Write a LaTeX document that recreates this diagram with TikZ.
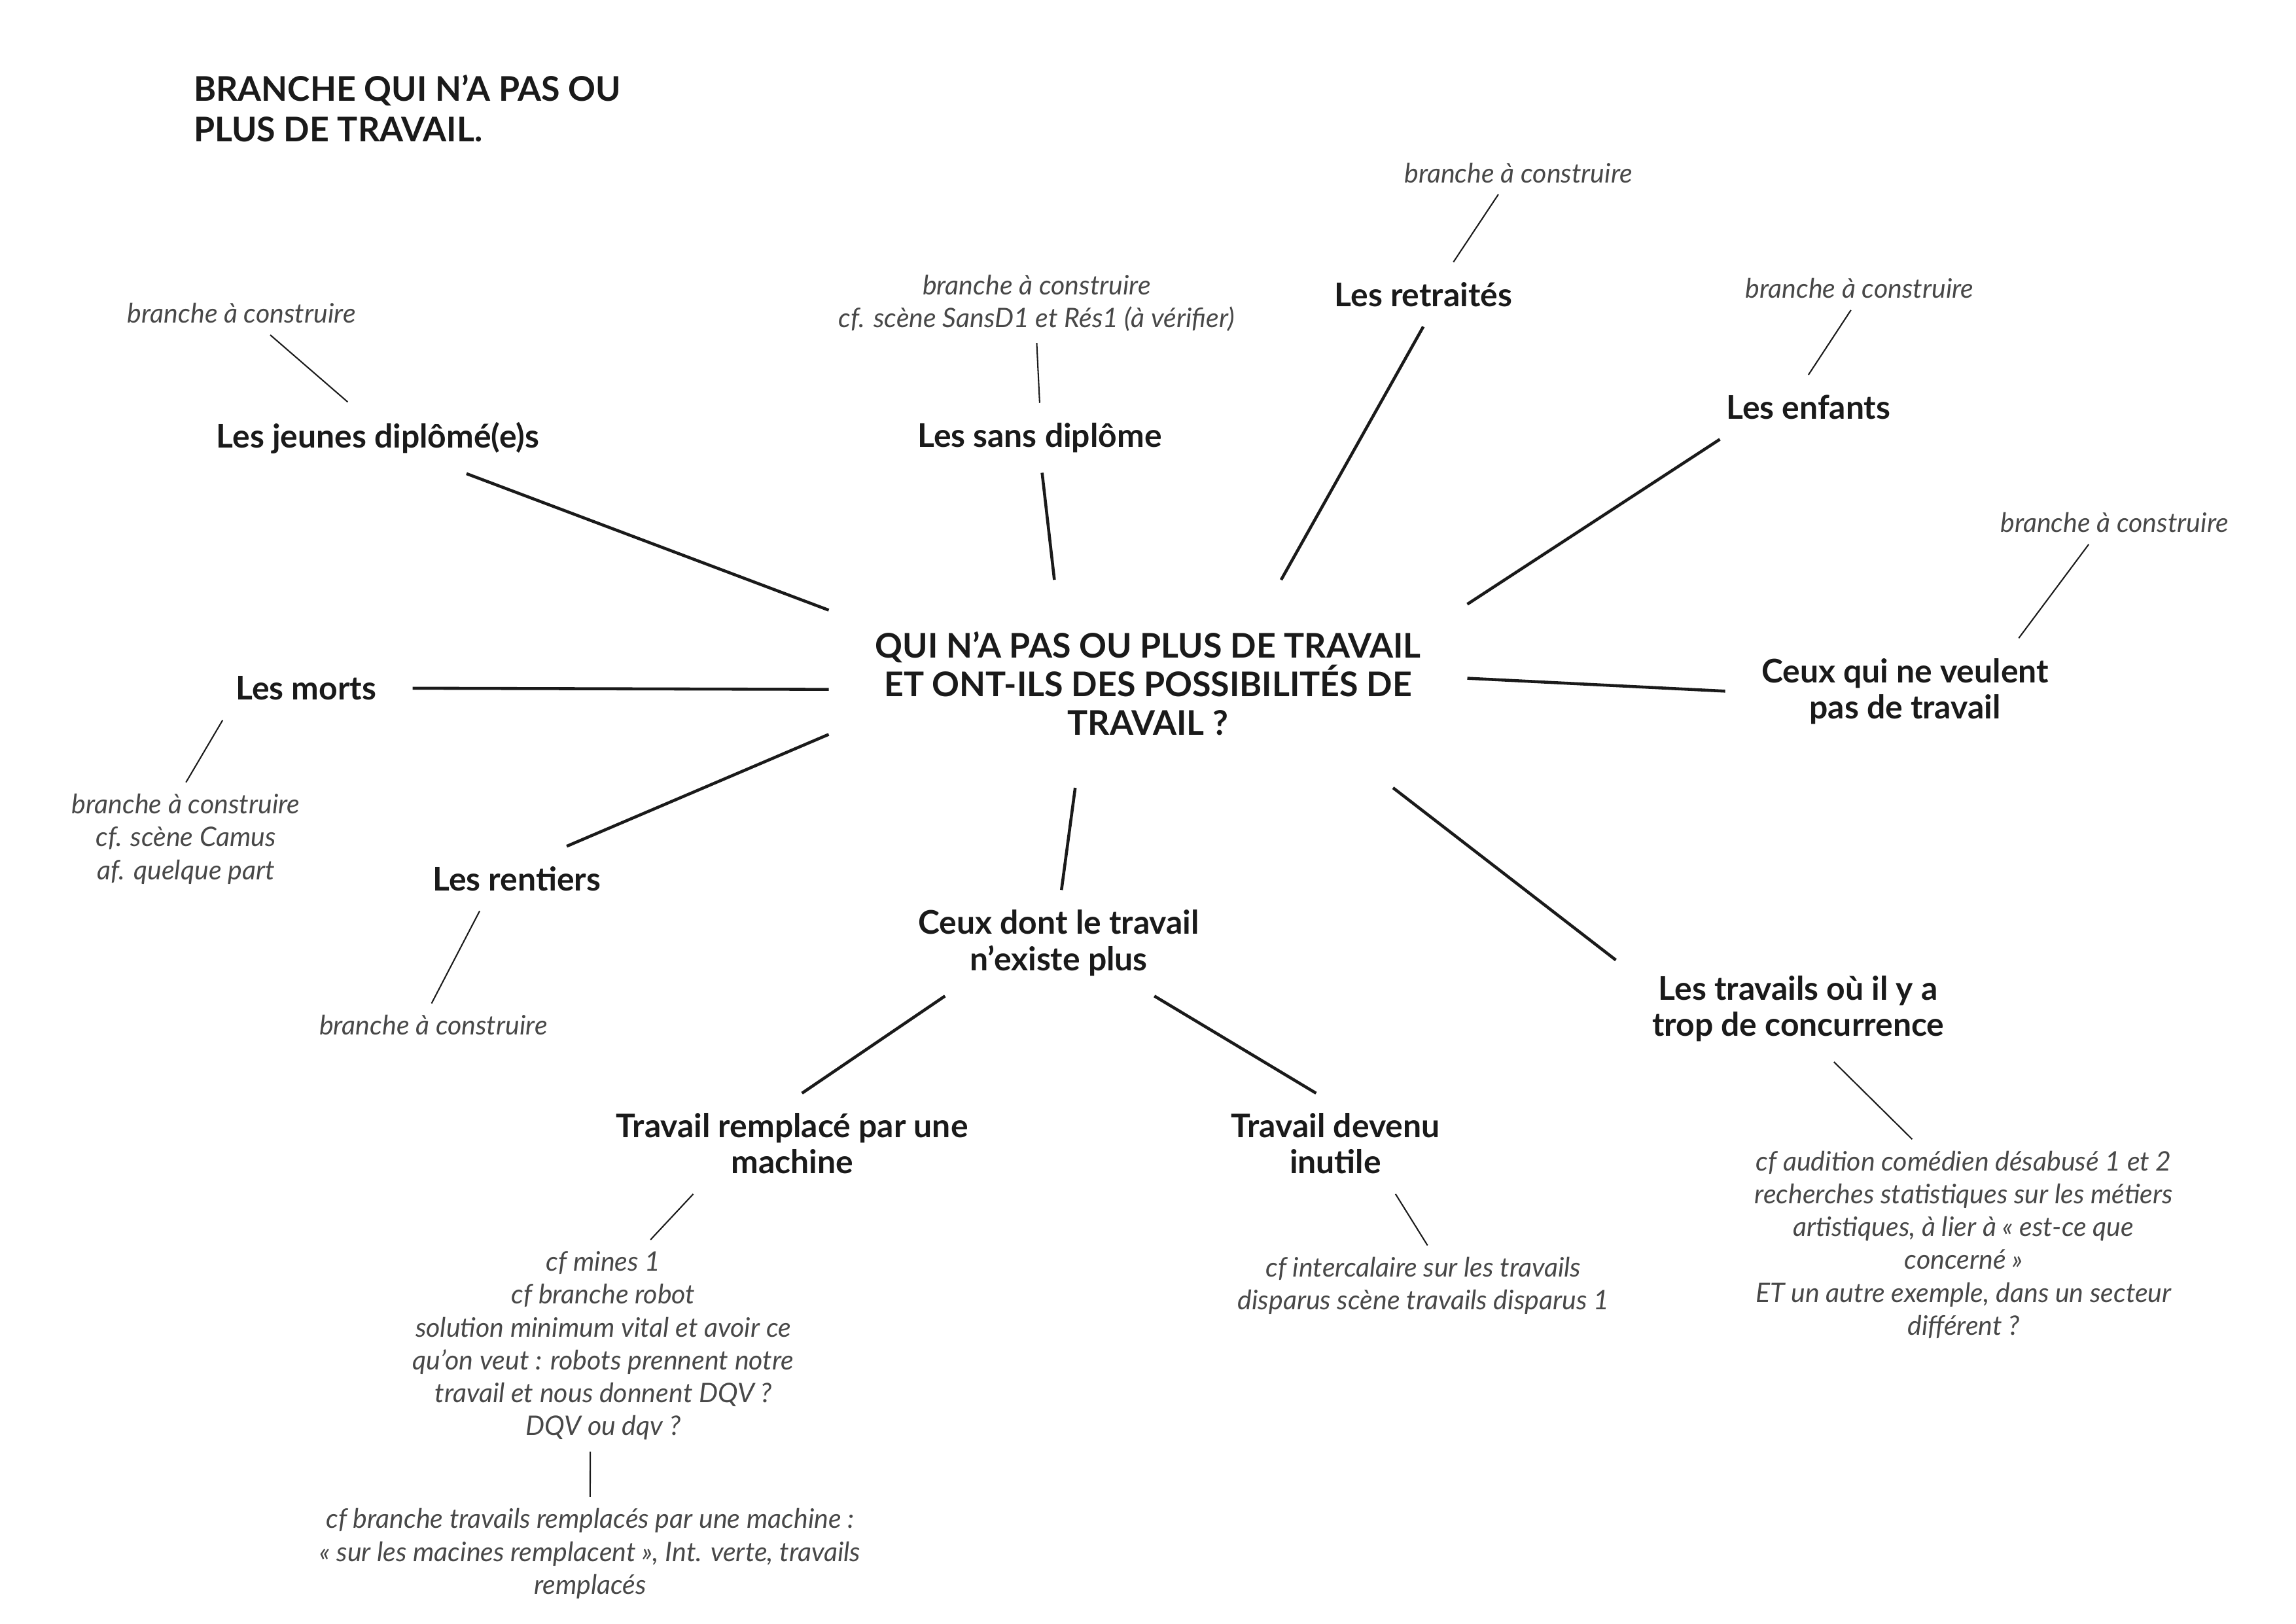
\documentclass[tikz,border=0pt]{standalone}
\usepackage{fontspec}
\setmainfont{Lato}
\definecolor{ink}{HTML}{1A1A1A}

\begin{document}
\begin{tikzpicture}[x=0.1894mm, y=-0.1894mm,
    hub/.style={font=\fontsize{12.5}{14.2}\selectfont\bfseries, align=center,
      minimum width=8.26cm, minimum height=2.69cm, inner sep=0pt, outer sep=0pt, text=ink},
    leaf/.style={font=\fontsize{12}{13.3}\selectfont\bfseries, align=center,
      inner xsep=0.47cm, inner ysep=0.26cm, outer sep=0pt, text=ink},
    note/.style={font=\fontsize{9.9}{12.1}\selectfont\itshape, align=center,
      inner xsep=0.2cm, inner ysep=0.15cm, outer sep=0pt, text=ink!80},
    branch/.style={draw=ink, line width=1.1pt},
    twig/.style={draw=ink, line width=0.5pt}]
    \useasboundingbox (0,0) rectangle (1568,1109);
    % title
    \node [font=\fontsize{12.5}{15}\selectfont\bfseries, align=left, anchor=west, inner sep=0pt, text=ink]
      (title) at (132,74) {BRANCHE QUI N’A PAS OU\\PLUS DE TRAVAIL.};
    % centre
    \node [hub] (hub) at (784,467)
      {QUI N’A PAS OU PLUS DE TRAVAIL\\ET ONT-ILS DES POSSIBILITÉS DE\\TRAVAIL ?};
    % branches
    \node [leaf] (jeunes) at (258,299) {Les jeunes diplômé(e)s};
    \node [leaf] (sans) at (710,299) {Les sans diplôme};
    \node [leaf] (retraites) at (972,201) {Les retraités};
    \node [leaf] (enfants) at (1235,278) {Les enfants};
    \node [leaf] (veulent) at (1301,472) {Ceux qui ne veulent\\pas de travail};
    \node [leaf] (morts) at (209,470) {Les morts};
    \node [leaf] (rentiers) at (353,600) {Les rentiers};
    \node [leaf] (existe) at (723,644) {Ceux dont le travail\\n’existe plus};
    \node [leaf] (concurrence) at (1228,689) {Les travails où il y a\\trop de concurrence};
    \node [leaf] (machine) at (541,781) {Travail remplacé par une\\machine};
    \node [leaf] (inutile) at (912,781) {Travail devenu\\inutile};
    % notes
    \node [note] (n-jeunes) at (165,214) {branche à construire};
    \node [note] (n-sans) at (708,207) {branche à construire\\cf. scène SansD1 et Rés1 (à vérifier)};
    \node [note] (n-retraites) at (1037,118) {branche à construire};
    \node [note] (n-enfants) at (1270,197) {branche à construire};
    \node [note] (n-veulent) at (1444,357) {branche à construire};
    \node [note] (n-morts) at (127,573) {branche à construire\\cf. scène Camus\\af. quelque part};
    \node [note] (n-rentiers) at (296,700) {branche à construire};
    \node [note] (n-machine) at (412,919) {cf mines 1\\cf branche robot\\solution minimum vital et avoir ce\\qu’on veut : robots prennent notre\\travail et nous donnent DQV ?\\DQV ou dqv ?};
    \node [note] (n-machine2) at (403,1061) {cf branche travails remplacés par une machine :\\« sur les macines remplacent », Int. verte, travails\\remplacés};
    \node [note] (n-inutile) at (972,878) {cf intercalaire sur les travails\\disparus scène travails disparus 1};
    \node [note] (n-concurrence) at (1341,850) {cf audition comédien désabusé 1 et 2\\recherches statistiques sur les métiers\\artistiques, à lier à « est-ce que\\concerné »\\ET un autre exemple, dans un secteur\\différent ?};
    % connectors
    \draw [branch] (hub.167) -- (jeunes.338);
    \draw [branch] (hub.132) -- (sans.274);
    \draw [branch] (hub.38) -- (retraites.270);
    \draw [branch] (hub.14) -- (enfants.200);
    \draw [branch] (hub.1) -- (veulent.180);
    \draw [branch] (hub.181) -- (morts.0);
    \draw [branch] (hub.189) -- (rentiers.33);
    \draw [branch] (hub.235) -- (existe.87);
    \draw [branch] (hub.337) -- (concurrence.165);
    \draw [branch] (existe.205) -- (machine.79);
    \draw [branch] (existe.331) -- (inutile.111);
    \draw [twig] (n-jeunes.323) -- (jeunes.130);
    \draw [twig] (n-sans.south) -- (sans.north);
    \draw [twig] (n-retraites.227) -- (retraites.47);
    \draw [twig] (n-enfants.248) -- (enfants.north);
    \draw [twig] (n-veulent.220) -- (veulent.25);
    \draw [twig] (n-morts.north) -- (morts.201);
    \draw [twig] (n-rentiers.95) -- (rentiers.221);
    \draw [twig] (machine.207) -- (n-machine.66);
    \draw [twig] (n-machine.263) -- (n-machine2.north);
    \draw [twig] (inutile.320) -- (n-inutile.84);
    \draw [twig] (concurrence.304) -- (n-concurrence.116);
\end{tikzpicture}
\end{document}
